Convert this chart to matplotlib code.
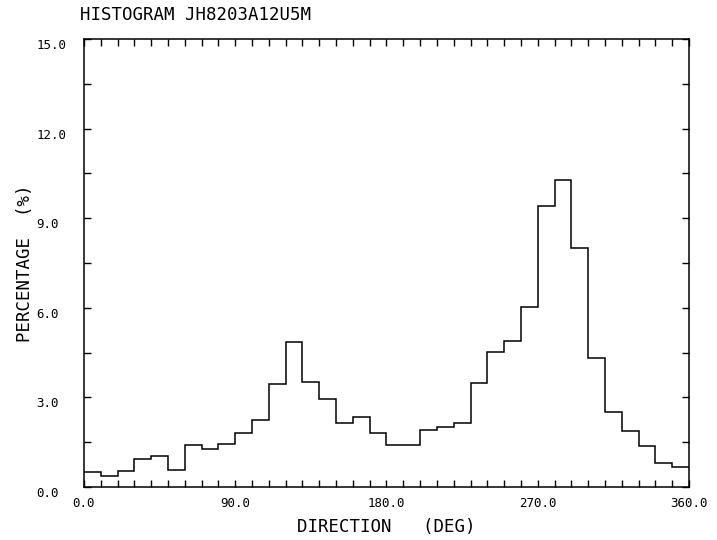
import numpy as np
import matplotlib
matplotlib.use("Agg")
import matplotlib.pyplot as plt
import matplotlib.transforms as mtransforms
from matplotlib.ticker import MultipleLocator

# bin edges every 10 degrees, percentage per bin
bin_edges = list(range(0, 370, 10))
percent = [0.51, 0.38, 0.55, 0.93, 1.05, 0.57, 1.41, 1.27, 1.44, 1.80,
           2.24, 3.44, 4.84, 3.53, 2.95, 2.13, 2.35, 1.82, 1.41, 1.41,
           1.91, 2.02, 2.13, 3.50, 4.53, 4.89, 6.02, 9.42, 10.28, 7.99,
           4.31, 2.52, 1.89, 1.38, 0.79, 0.68]
x_ticks = [0, 90, 180, 270, 360]
y_ticks = [0, 3, 6, 9, 12, 15]

plt.rcParams['font.family'] = ['DejaVu Sans Mono']

fig = plt.figure(figsize=(7.17, 5.4), dpi=100)
ax = fig.add_axes([0.117, 0.098, 0.844, 0.830])

ax.stairs(percent, bin_edges, color='black', linewidth=1.1, baseline=None)

ax.set_xlim(0, 360)
ax.set_ylim(0, 15)
ax.set_xticks(x_ticks)
ax.set_xticklabels([f"{v:.1f}" for v in x_ticks])
ax.set_yticks(y_ticks)
ax.set_yticklabels([f"{v:.1f}" for v in y_ticks])
ax.xaxis.set_minor_locator(MultipleLocator(10))
ax.yaxis.set_minor_locator(MultipleLocator(1.5))
ax.tick_params(which='both', direction='in', top=True, right=True,
               length=5, width=1.0, labelsize=9)
ax.tick_params(axis='x', pad=7)
ax.tick_params(axis='y', pad=34)

# y labels in the original are left aligned and sit a little below the tick
shift = mtransforms.ScaledTranslation(0, -5 / 100, fig.dpi_scale_trans)
for lab in ax.get_yticklabels():
    lab.set_horizontalalignment('left')
    lab.set_transform(lab.get_transform() + shift)

for s in ax.spines.values():
    s.set_linewidth(1.1)

ax.set_xlabel("DIRECTION   (DEG)", fontsize=12.5, labelpad=6)
ax.set_ylabel("PERCENTAGE  (%)", fontsize=12.5, labelpad=2)
fig.text(0.112, 0.972, "HISTOGRAM JH8203A12U5M", fontsize=12.5, va='center', ha='left')

fig.savefig("out.png", dpi=100)
